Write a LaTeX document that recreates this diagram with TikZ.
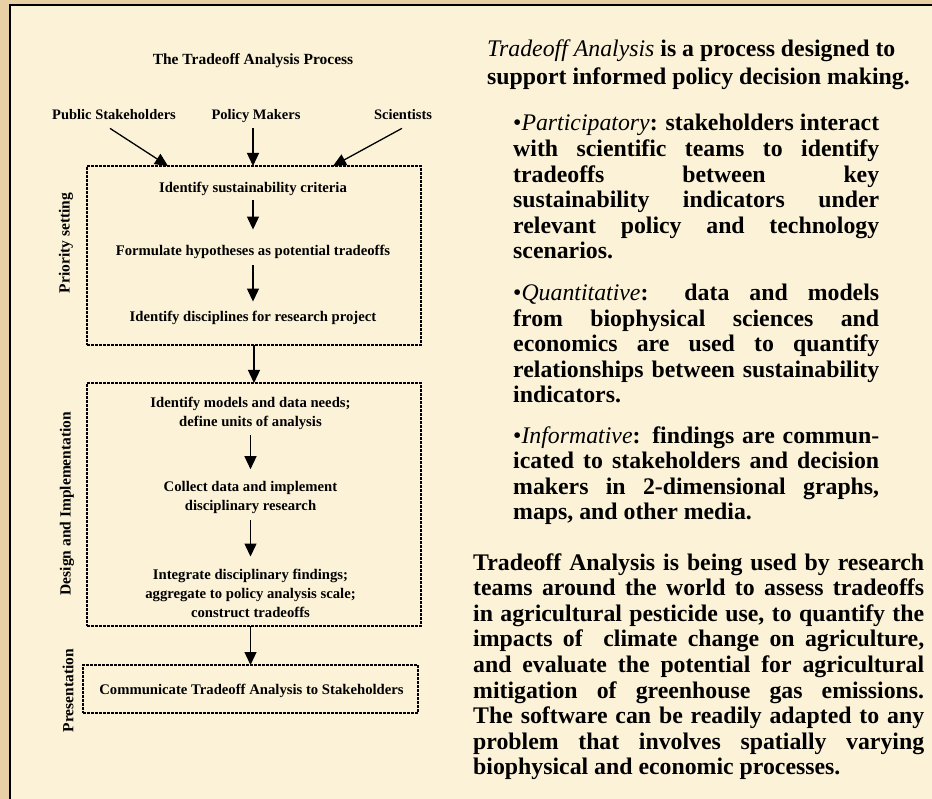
\documentclass[tikz,border=0pt]{standalone}
\usepackage{fontspec}
\setmainfont{Liberation Serif}
\usetikzlibrary{arrows.meta}
\definecolor{parchment}{HTML}{E8CFA5}
\definecolor{cream}{HTML}{FCF2D8}
\newcommand\jline[1]{\hbox to\hsize{#1}}
\newcommand\lline[1]{\hbox{#1}}
\begin{document}
\begin{tikzpicture}[x=1pt,y=-1pt,
  stepnode/.style={font={\bfseries\fontsize{14.7}{19}\selectfont}, inner sep=0pt, align=center},
  srcnode/.style={font={\bfseries\fontsize{14.5}{17}\selectfont}, inner sep=0pt},
  titlenode/.style={font={\bfseries\fontsize{15.5}{18}\selectfont}, inner sep=0pt},
  phase/.style={font={\bfseries\fontsize{15.5}{18}\selectfont}, inner sep=0pt, rotate=90},
  dotbox/.style={draw, line width=2.6pt, dash pattern=on 2.7pt off 1.3pt, inner sep=0pt, outer sep=0pt},
  arr/.style={line width=1.3pt, -{Triangle[width=12pt,length=13pt]}},
  para/.style={inner sep=0pt, anchor=base west}
]
\useasboundingbox (0,0) rectangle (932,799);
\fill[parchment] (0,0) rectangle (932,799);
\fill[cream] (10,5) rectangle (932,799);
\draw[line width=2pt] (10,799) -- (10,5) -- (932,5);

% left diagram
\node[titlenode, anchor=base] (title) at (253,65) {The Tradeoff Analysis Process};
\node[srcnode, anchor=base] (ps) at (114,120) {Public Stakeholders};
\node[srcnode, anchor=base] (pm) at (256,120) {Policy Makers};
\node[srcnode, anchor=base] (sc) at (403,120) {Scientists};

\node[dotbox, minimum width=334pt, minimum height=179pt] (box1) at (254,255.5) {};
\node[dotbox, minimum width=334pt, minimum height=243pt] (box2) at (254,504.5) {};
\node[dotbox, minimum width=335pt, minimum height=48pt] (box3) at (250.5,689) {};

\coordinate (in1) at ([xshift=-86pt]box1.north);
\coordinate (in2) at ([xshift=-1pt]box1.north);
\coordinate (in3) at ([xshift=79pt]box1.north);

\node[stepnode, anchor=base] (s1) at (253,193) {Identify sustainability criteria};
\node[stepnode, anchor=base] (s2) at (253,255.5) {Formulate hypotheses as potential tradeoffs};
\node[stepnode, anchor=base] (s3) at (253,322) {Identify disciplines for research project};
\node[stepnode] (s4) at (250.5,413) {Identify models and data needs;\\ define units of analysis};
\node[stepnode] (s5) at (250.5,497.6) {Collect data and implement\\ disciplinary research};
\node[stepnode] (s6) at (250.5,593) {Integrate disciplinary findings;\\ aggregate to policy analysis scale;\\ construct tradeoffs};
\node[stepnode, anchor=base] (s7) at (251.5,694) {Communicate Tradeoff Analysis to Stakeholders};

\node[phase] (ph1) at (66,243) {Priority setting};
\node[phase] (ph2) at (67,503.5) {Design and Implementation};
\node[phase] (ph3) at (68,690.5) {Presentation};

\draw[arr] ([xshift=-4pt,yshift=-8pt]ps.south) -- (in1);
\draw[arr] ([xshift=-3pt,yshift=-5pt]pm.south) -- (in2);
\draw[arr] ([xshift=-1pt,yshift=-8pt]sc.south) -- (in3);
\draw[arr, shorten <=4pt, shorten >=15.4pt] (s1) -- (s2);
\draw[arr, shorten <=6.3pt, shorten >=9.9pt] (s2) -- (s3);
\draw[arr] (box1) -- (box2);
\draw[arr, shorten <=6pt, shorten >=12pt] (s4) -- (s5);
\draw[arr, shorten <=6pt, shorten >=12pt] (s5) -- (s6);
\draw[arr] (box2.south -| box3.north) -- (box3.north);

% right text
\node[para] (p0) at (487,57) {\begin{minipage}[t]{440pt}\bfseries\fontsize{23.8}{28}\selectfont
\lline{{\mdseries\itshape Tradeoff Analysis} is a process designed to}
\lline{support informed policy decision making.}
\end{minipage}};

\node[para] (p1) at (513,131) {\begin{minipage}[t]{366pt}\bfseries\fontsize{23.8}{25.6}\selectfont
\jline{{\mdseries •\itshape Participatory}: stakeholders interact}
\jline{with scientific teams to identify}
\jline{tradeoffs between key}
\jline{sustainability indicators under}
\jline{relevant policy and technology}
\lline{scenarios.}
\end{minipage}};

\node[para] (p2) at (513,301) {\begin{minipage}[t]{366pt}\bfseries\fontsize{23.8}{25.5}\selectfont
\jline{{\mdseries •\itshape Quantitative}: data and models}
\jline{from biophysical sciences and}
\jline{economics are used to quantify}
\jline{relationships between sustainability}
\lline{indicators.}
\end{minipage}};

\node[para] (p3) at (513,443) {\begin{minipage}[t]{366pt}\bfseries\fontsize{23.8}{25.6}\selectfont
\jline{{\mdseries •\itshape Informative}: findings are commun-}
\jline{icated to stakeholders and decision}
\jline{makers in 2-dimensional graphs,}
\lline{maps, and other media.}
\end{minipage}};

\node[para] (p4) at (473,570) {\begin{minipage}[t]{451pt}\bfseries\fontsize{23.8}{25.6}\selectfont
\jline{Tradeoff Analysis is being used by research}
\jline{teams around the world to assess tradeoffs}
\jline{in agricultural pesticide use, to quantify the}
\jline{impacts of\ \ climate change on agriculture,}
\jline{and evaluate the potential for agricultural}
\jline{mitigation of greenhouse gas emissions.}
\jline{The software can be readily adapted to any}
\jline{problem that involves spatially varying}
\lline{biophysical and economic processes.}
\end{minipage}};
\end{tikzpicture}
\end{document}
